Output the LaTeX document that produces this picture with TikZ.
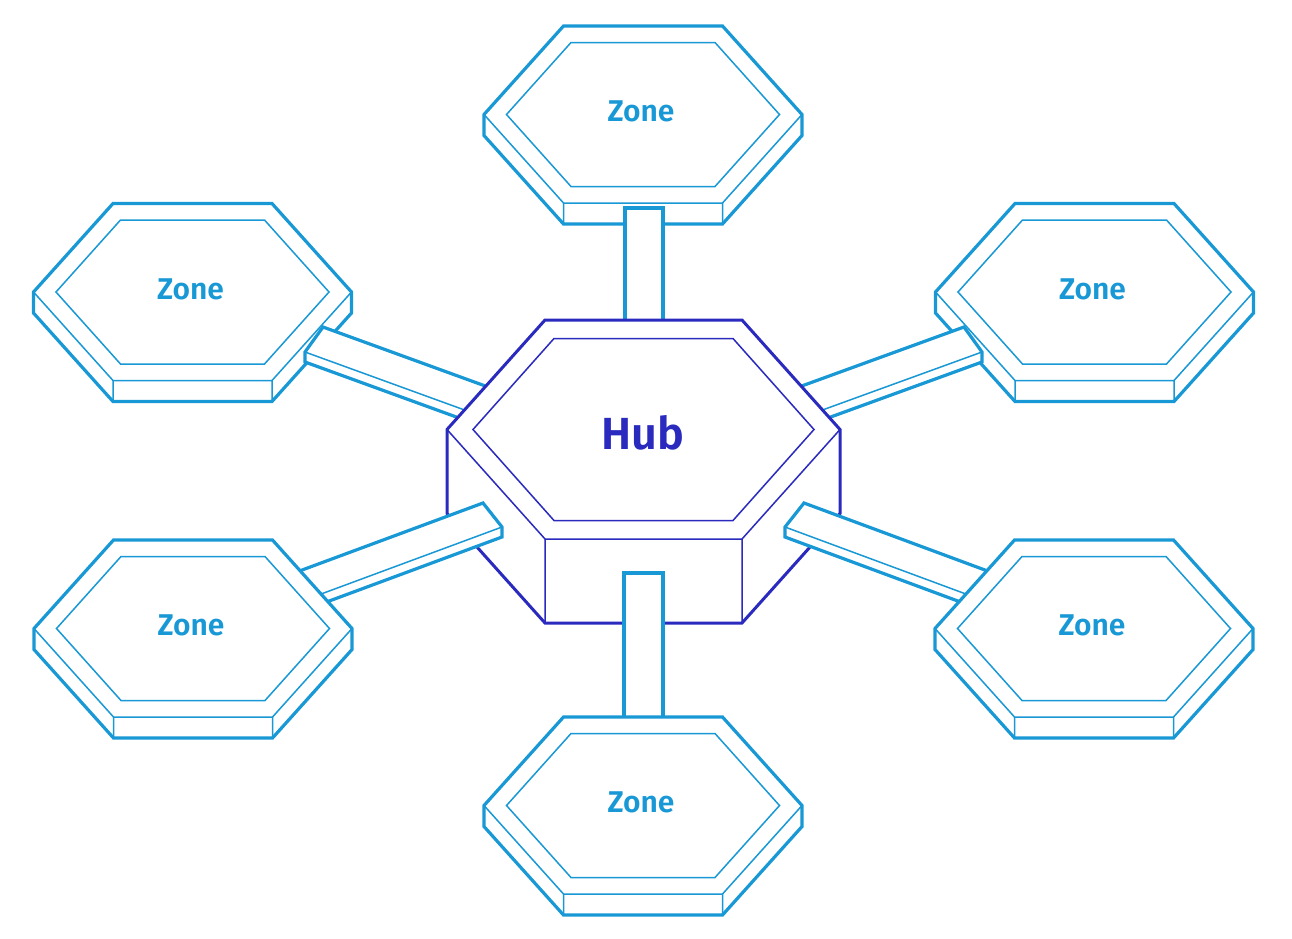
\documentclass[tikz,border=0pt]{standalone}
\usepackage{fontspec}
\setmainfont{Fira Sans}[BoldFont={Fira Sans SemiBold}]
\definecolor{zoneblue}{RGB}{25,152,214}
\definecolor{hubblue}{RGB}{42,42,190}
\tikzset{
  x=1pt, y=-1pt,
  zthick/.style={draw=zoneblue, line width=3.2pt, line join=miter},
  zthin/.style={draw=zoneblue, line width=1.5pt, line join=miter},
  hthick/.style={draw=hubblue, line width=3pt, line join=miter},
  hthin/.style={draw=hubblue, line width=1.5pt, line join=miter},
  zonetext/.style={text=zoneblue, font=\fontsize{30}{34}\selectfont\bfseries, inner sep=0pt},
  hubtext/.style={text=hubblue, font=\fontsize{45}{50}\selectfont\bfseries, inner sep=0pt},
  zone/.pic={
    \fill[white] (-79.5,-88.5) -- (79.5,-88.5) -- (159,0) -- (159,21) -- (79.5,109.5) -- (-79.5,109.5) -- (-159,21) -- (-159,0) -- cycle;
    \draw[zthin] (-159,0) -- (-79.5,88.5) -- (79.5,88.5) -- (159,0)
                 (-79.5,88.5) -- (-79.5,109.5) (79.5,88.5) -- (79.5,109.5);
    \draw[zthin] (-72,-72) -- (72,-72) -- (136.5,0) -- (72,72) -- (-72,72) -- (-136.5,0) -- cycle;
    \draw[zthick] (-79.5,-88.5) -- (79.5,-88.5) -- (159,0) -- (159,21) -- (79.5,109.5) -- (-79.5,109.5) -- (-159,21) -- (-159,0) -- cycle;
    \node[zonetext] (-label) at (-2,-3) {Zone};
  }
}
\begin{document}
\begin{tikzpicture}
\useasboundingbox (0,0) rectangle (1292,938);
% back zones
\pic (ztop) at (643,114.5) {zone};
\pic (ztl) at (192.5,292) {zone};
\pic (ztr) at (1094.5,292) {zone};
% back bars
\filldraw[fill=white, zthick] (625,208) rectangle (663,335);
\filldraw[fill=white, zthick] (323,327) -- (539,405.5) -- (521,440.5) -- (305,362) -- (305,352) -- cycle;
\draw[zthin] (305,352) -- (521,430.5);
\filldraw[fill=white, zthick] (964,327) -- (748,405.5) -- (766,440.5) -- (982,362) -- (982,352) -- cycle;
\draw[zthin] (982,352) -- (766,430.5);
% hub
\fill[white] (545,320) -- (742,320) -- (840,429.5) -- (840,513.5) -- (742,623) -- (545,623) -- (447,513.5) -- (447,429.5) -- cycle;
\draw[hthin] (447,429.5) -- (545,539) -- (742,539) -- (840,429.5)
             (545,539) -- (545,623) (742,539) -- (742,623);
\draw[hthin] (554,338.5) -- (733,338.5) -- (814,429.5) -- (733,520.5) -- (554,520.5) -- (473,429.5) -- cycle;
\draw[hthick] (545,320) -- (742,320) -- (840,429.5) -- (840,513.5) -- (742,623) -- (545,623) -- (447,513.5) -- (447,429.5) -- cycle;
\node[hubtext] (hub) at (643,433) {Hub};
% front bars
\filldraw[fill=white, zthick] (483,503) -- (267,583) -- (286,617) -- (502,537) -- (502,527) -- cycle;
\draw[zthin] (502,527) -- (286,607);
\filldraw[fill=white, zthick] (804,503) -- (1020,583) -- (1001,617) -- (785,537) -- (785,527) -- cycle;
\draw[zthin] (785,527) -- (1001,607);
\filldraw[fill=white, zthick] (624,573) rectangle (663,730);
% front zones
\pic (zbl) at (193,628.5) {zone};
\pic (zbr) at (1094,628.5) {zone};
\pic (zbot) at (643,805.5) {zone};
\end{tikzpicture}
\end{document}
